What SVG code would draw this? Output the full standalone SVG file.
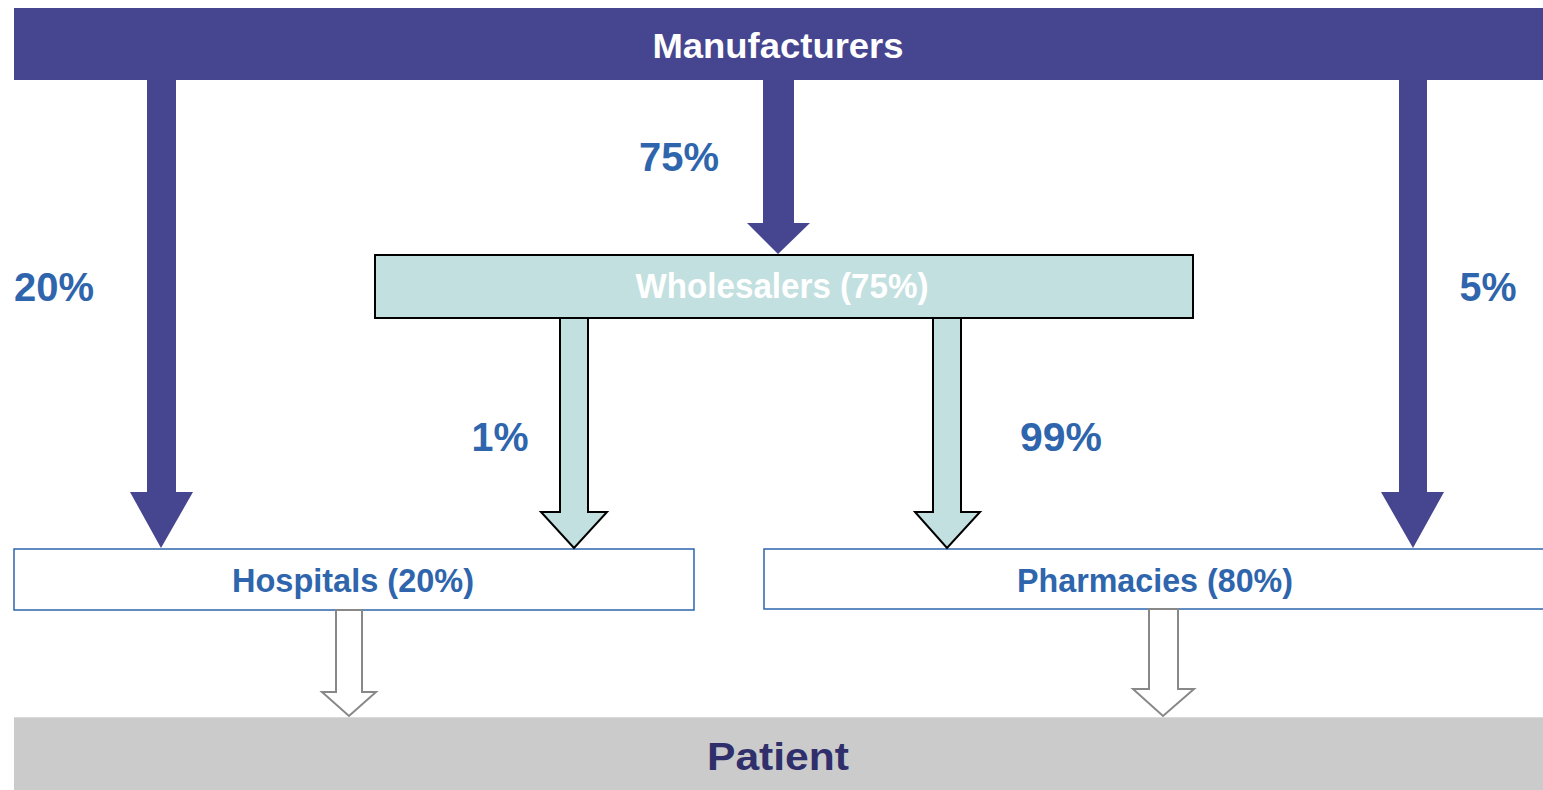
<svg xmlns="http://www.w3.org/2000/svg" width="1543" height="790" viewBox="0 0 1543 790">
<style>
text{font-family:"Liberation Sans",Arial,sans-serif;font-weight:bold;}
.pct{fill:#2E65AC;font-size:41px;}
.box{fill:#2E65AC;font-size:33px;}
.purple{fill:#46458F;}
.teal{fill:#C3E0E0;stroke:#000;stroke-width:2;}
.gray{fill:#fff;stroke:#888;stroke-width:2;}
</style>
<rect width="1543" height="790" fill="#fff"/>
<g id="manufacturers">
<rect x="14" y="8" width="1529" height="72" class="purple"/>
<text x="778" y="58" fill="#fff" font-size="35" text-anchor="middle" textLength="251" lengthAdjust="spacingAndGlyphs">Manufacturers</text>
</g>
<g id="wholesalers">
<rect x="375" y="255" width="818" height="63" class="teal"/>
<text x="782" y="298" fill="#fff" font-size="35" text-anchor="middle" textLength="293" lengthAdjust="spacingAndGlyphs">Wholesalers (75%)</text>
</g>
<g id="hospitals">
<rect x="14" y="549" width="680" height="61" fill="#fff" stroke="#2E65AC" stroke-width="1.5"/>
<text x="353" y="592" class="box" text-anchor="middle" textLength="242" lengthAdjust="spacingAndGlyphs">Hospitals (20%)</text>
</g>
<g id="pharmacies">
<rect x="764" y="549" width="790" height="60" fill="#fff" stroke="#2E65AC" stroke-width="1.5"/>
<text x="1155" y="592" class="box" text-anchor="middle" textLength="276" lengthAdjust="spacingAndGlyphs">Pharmacies (80%)</text>
</g>
<g id="patient">
<rect x="14" y="717" width="1529" height="73" fill="#CBCBCB"/>
<line x1="14" y1="717.5" x2="1543" y2="717.5" stroke="#DADADA" stroke-width="1"/>
<text x="778" y="770" fill="#2F2F6C" font-size="39" text-anchor="middle" textLength="142" lengthAdjust="spacingAndGlyphs">Patient</text>
</g>
<g id="connectors">
<polygon class="purple" points="147,80 176,80 176,492 193,492 161,548 130,492 147,492"/>
<polygon class="purple" points="763,80 794,80 794,223 810,223 778,254 747,223 763,223"/>
<polygon class="purple" points="1399,80 1427,80 1427,492 1444,492 1413,548 1381,492 1399,492"/>
<polygon class="teal" points="560,318 588,318 588,512 607,512 574,548 541,512 560,512"/>
<polygon class="teal" points="933,318 961,318 961,512 980,512 947,548 915,512 933,512"/>
<polygon class="gray" points="336,610 362,610 362,692 376,692 349,716 322,692 336,692"/>
<polygon class="gray" points="1149,609 1178,609 1178,689 1194,689 1163,716 1133,689 1149,689"/>
</g>
<g id="labels">
<text x="679" y="171" class="pct" text-anchor="middle" textLength="80" lengthAdjust="spacingAndGlyphs">75%</text>
<text x="54" y="301" class="pct" text-anchor="middle" textLength="80" lengthAdjust="spacingAndGlyphs">20%</text>
<text x="1488" y="301" class="pct" text-anchor="middle" textLength="57" lengthAdjust="spacingAndGlyphs">5%</text>
<text x="500" y="451" class="pct" text-anchor="middle" textLength="57" lengthAdjust="spacingAndGlyphs">1%</text>
<text x="1061" y="451" class="pct" text-anchor="middle" textLength="82" lengthAdjust="spacingAndGlyphs">99%</text>
</g>
</svg>
